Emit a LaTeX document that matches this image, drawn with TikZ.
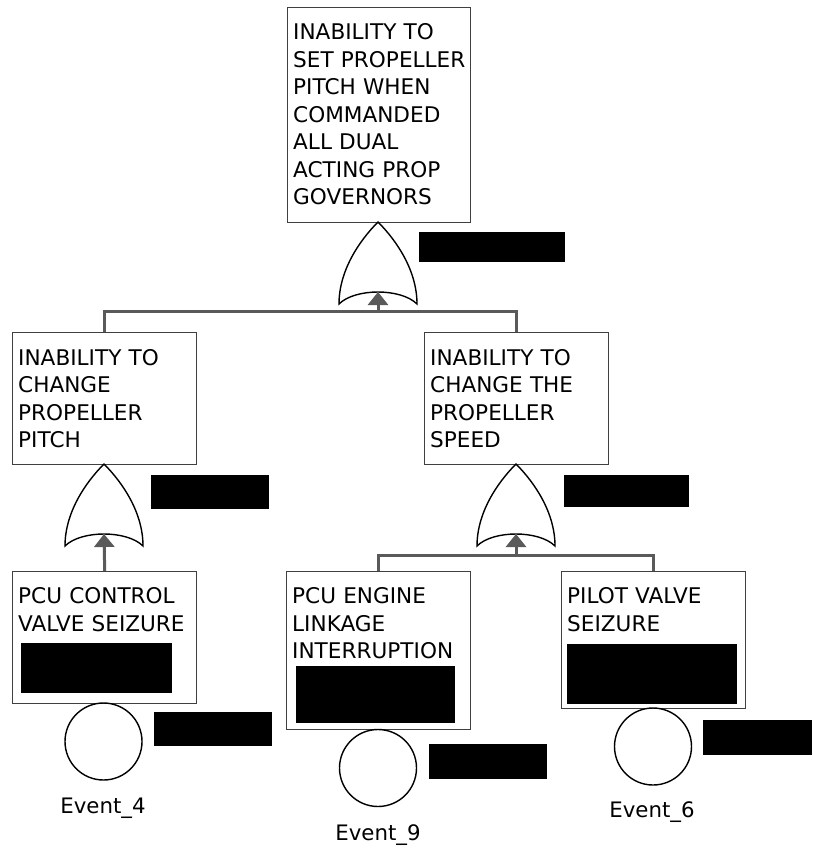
\documentclass[tikz,border=0pt]{standalone}
\usepackage{fontspec}
\setmainfont{DejaVu Sans}
\usetikzlibrary{arrows.meta}
\definecolor{connGray}{HTML}{5A5A5A}
\definecolor{boxGray}{HTML}{404040}
\begin{document}
\begin{tikzpicture}[x=1pt,y=-1pt,
  evbox/.style={draw=boxGray, line width=1.4pt, fill=white, inner sep=0pt, anchor=north west},
  evtext/.style={anchor=base west, inner sep=0pt, text width=180pt, align=left,
    font=\fontsize{21.6}{27.5}\selectfont},
  gateline/.style={draw=black, line width=1.4pt, fill=white},
  conn/.style={draw=connGray, line width=3pt},
  arr/.style={conn, -{Triangle[width=20pt,length=13pt]}},
  redact/.style={fill=black, inner sep=0pt, anchor=north west},
  basic/.style={draw=black, line width=1.4pt, circle, inner sep=0pt, minimum size=77pt},
  evlabel/.style={anchor=base, inner sep=0pt, font=\fontsize{21.3}{25}\selectfont},
  orgate/.pic={
    \path[gateline] (-39,82) .. controls (-39,48) and (-18,18) .. (0,0)
       .. controls (18,18) and (39,48) .. (39,82)
       .. controls (23,66) and (-23,66) .. cycle;
    \coordinate (-in) at (0,70);
  }]
\useasboundingbox (0,0) rectangle (812,848);

% event boxes
\node[evbox, minimum width=183pt, minimum height=215pt] (top) at (287,7) {};
\node[evbox, minimum width=184pt, minimum height=132pt] (midL) at (12,332) {};
\node[evbox, minimum width=184pt, minimum height=132pt] (midR) at (424,332) {};
\node[evbox, minimum width=184pt, minimum height=132pt] (pcuC) at (12,571) {};
\node[evbox, minimum width=184pt, minimum height=158pt] (pcuE) at (286,571) {};
\node[evbox, minimum width=184pt, minimum height=137pt] (pilot) at (561,571) {};

% connectors
\coordinate (j1) at (378,311.5);
\coordinate (j3) at (516,555.5);
\draw[conn] (midL.north) |- (j1) -| (midR.north);
\draw[conn] (pcuE.north) |- (j3) -| (pilot.north);

% OR gates
\pic (g1) at (378,222) {orgate};
\pic (g2) at (104,464) {orgate};
\pic (g3) at (516,464) {orgate};

\draw[arr] (j1) -- (g1-in);
\draw[arr] (pcuC.north) -- (g2-in);
\draw[arr] (j3) -- (g3-in);

% box texts
\node[evtext] (topT) at (293,40) {INABILITY TO\\SET PROPELLER\\PITCH WHEN\\COMMANDED\\ALL DUAL\\ACTING PROP\\GOVERNORS};
\node[evtext] (midLT) at (18,365) {INABILITY TO\\CHANGE\\PROPELLER\\PITCH};
\node[evtext] (midRT) at (430,365) {INABILITY TO\\CHANGE THE\\PROPELLER\\SPEED};
\node[evtext] (pcuCT) at (18,603.5) {PCU CONTROL\\VALVE SEIZURE};
\node[evtext] (pcuET) at (292,603.5) {PCU ENGINE\\LINKAGE\\INTERRUPTION};
\node[evtext] (pilotT) at (567,603.5) {PILOT VALVE\\SEIZURE};

% basic events
\node[basic] (e4) at (103.5,741.5) {};
\node[basic] (e9) at (378,768) {};
\node[basic] (e6) at (653,746.5) {};
\node[evlabel] (e4L) at (103,813) {Event\_4};
\node[evlabel] (e9L) at (378,840) {Event\_9};
\node[evlabel] (e6L) at (652,817) {Event\_6};

% blacked-out tags
\node[redact, minimum width=146pt, minimum height=30pt] (g1tag) at (419,232) {};
\node[redact, minimum width=118pt, minimum height=34pt] (g2tag) at (151,475) {};
\node[redact, minimum width=125pt, minimum height=32pt] (g3tag) at (564,475) {};
\node[redact, minimum width=151pt, minimum height=50pt] (pcuCtag) at (20.7,642.7) {};
\node[redact, minimum width=158.6pt, minimum height=57pt] (pcuEtag) at (295.7,665.7) {};
\node[redact, minimum width=170pt, minimum height=60pt] (pilottag) at (567,644) {};
\node[redact, minimum width=118pt, minimum height=34pt] (e4tag) at (154,712) {};
\node[redact, minimum width=118pt, minimum height=35pt] (e9tag) at (429,744) {};
\node[redact, minimum width=109pt, minimum height=34.5pt] (e6tag) at (703,720) {};
\end{tikzpicture}
\end{document}
